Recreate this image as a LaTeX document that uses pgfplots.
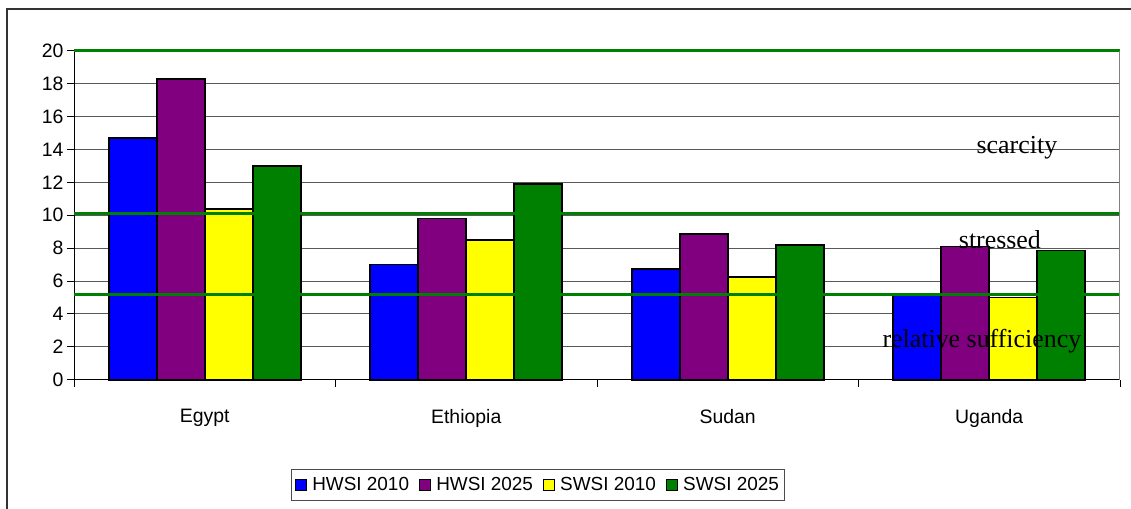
\documentclass[border=0pt]{standalone}
\usepackage{fontspec}
\setmainfont{Liberation Sans}
\newfontfamily\seriffont{Liberation Serif}
\usepackage{pgfplots}
\pgfplotsset{compat=1.18}
\definecolor{cblue}{RGB}{0,0,255}
\definecolor{cpurple}{RGB}{128,0,128}
\definecolor{cyellow}{RGB}{255,255,0}
\definecolor{cgreen}{RGB}{0,128,0}
\begin{document}
\begin{tikzpicture}
\path[use as bounding box] (0bp,0bp) rectangle (1131bp,509bp);
\draw[line width=1.5bp, black!80] (7bp,0bp) -- (7bp,500bp) -- (1131bp,500bp);
\begin{axis}[
  at={(74bp,129.3bp)}, anchor=south west,
  scale only axis, width=1046bp, height=329bp,
  ymin=0, ymax=20, xmin=-0.5, xmax=3.5,
  ytick={0,2,...,20},
  xtick={0,1,2,3},
  xticklabels={Egypt,Ethiopia,Sudan,Uganda},
  minor xtick={-0.5,0.5,1.5,2.5,3.5},
  major x tick style={draw=none},
  minor tick length=7bp, major tick length=7bp,
  tick align=outside,
  axis x line*=bottom, axis y line*=left,
  axis line style={black, line width=1bp},
  ymajorgrids, grid style={black!65, line width=0.8bp},
  tick style={black, line width=0.8bp},
  /pgf/number format/assume math mode=true,
  ticklabel style={font=\fontsize{19.5}{22}\selectfont},
  xticklabel style={yshift=-19bp},
  ybar=0pt, bar width=48bp,
  legend style={at={(0.4436,-0.32)}, anchor=center, legend columns=4,
    draw=black!70, line width=1bp, font=\fontsize{19}{22}\selectfont,
    inner xsep=4bp, inner ysep=6bp,
    /tikz/every odd column/.append style={column sep=3bp},
    /tikz/every even column/.append style={column sep=8bp}},
  legend image code/.code={\draw[#1, draw=black, line width=1.2bp] (0bp,-5.5bp) rectangle (11bp,5.5bp);},
  clip=false,
]
\addplot[fill=cblue, draw=black, line width=1.8bp] coordinates {(0,14.7) (1,7.0) (2,6.75) (3,5.15)};
\addplot[fill=cpurple, draw=black, line width=1.8bp] coordinates {(0,18.3) (1,9.8) (2,8.85) (3,8.1)};
\addplot[fill=cyellow, draw=black, line width=1.8bp] coordinates {(0,10.4) (1,8.5) (2,6.25) (3,5.0)};
\addplot[fill=cgreen, draw=black, line width=1.8bp] coordinates {(0,13.0) (1,11.9) (2,8.2) (3,7.85)};
\legend{HWSI 2010,HWSI 2025,SWSI 2010,SWSI 2025}
\addplot[sharp plot, cgreen, line width=3bp, forget plot] coordinates {(-0.5,20) (3.5,20)};
\addplot[sharp plot, cgreen, line width=3bp, forget plot] coordinates {(-0.5,10.1) (3.5,10.1)};
\addplot[sharp plot, cgreen, line width=3bp, forget plot] coordinates {(-0.5,5.2) (3.5,5.2)};
\draw[black!50, line width=1bp] (rel axis cs:1,0) -- (rel axis cs:1,1);
\node[font=\seriffont\fontsize{26}{30}\selectfont, anchor=base] at (axis cs:3.106,13.78) {scarcity};
\node[font=\seriffont\fontsize{26}{30}\selectfont, anchor=base] at (axis cs:3.041,8.0) {stressed};
\node[font=\seriffont\fontsize{26}{30}\selectfont, anchor=base] at (axis cs:2.972,1.95) {relative sufficiency};
\end{axis}
\end{tikzpicture}
\end{document}
